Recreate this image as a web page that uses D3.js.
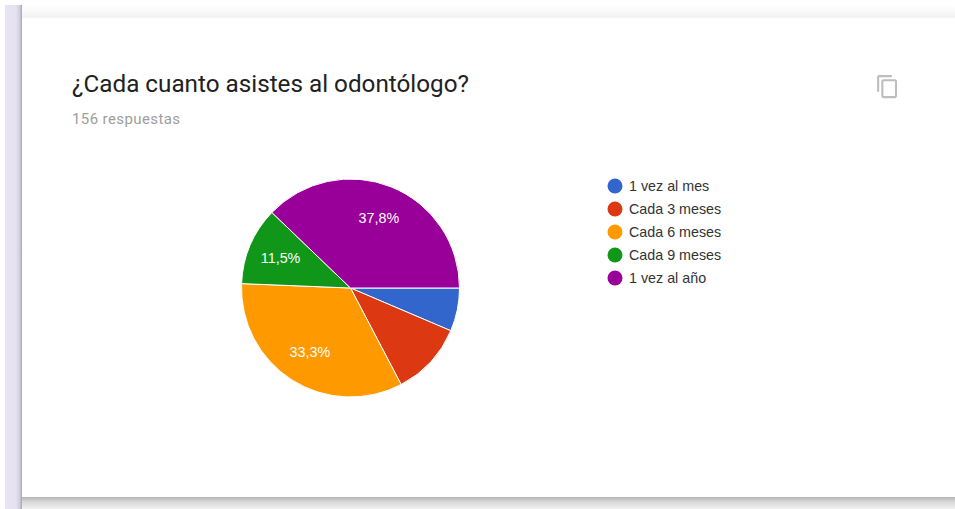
<!DOCTYPE html>
<html>
<head>
<meta charset="utf-8">
<script src="https://cdn.jsdelivr.net/npm/d3@7"></script>
<style>
  html, body { margin: 0; padding: 0; background: #fff; overflow: hidden; }
  text { font-family: Roboto, Arial, sans-serif; }
  .chart-text { font-family: "Liberation Sans", Arial, sans-serif; }
</style>
</head>
<body>
<div id="chart"></div>
<script>
// counts read from the percentages, 156 answers in total
const categories = ['1 vez al mes', 'Cada 3 meses', 'Cada 6 meses', 'Cada 9 meses', '1 vez al año'];
const counts = [10, 17, 52, 18, 59];
const sliceLabels = ['', '', '33,3%', '11,5%', '37,8%'];
const colors = ['#3366cc', '#dc3912', '#ff9900', '#109618', '#990099'];
const titleText = '¿Cada cuanto asistes al odontólogo?';
const subtitleText = '156 respuestas';

const width = 955, height = 509;
const cx = 350.5, cy = 288, radius = 109;

const svg = d3.select('#chart').append('svg')
    .attr('width', width)
    .attr('height', height)
    .style('display', 'block');

// gradients for the card shadows
const defs = svg.append('defs');
function addGradient(id, x2, y2, stops) {
  const g = defs.append('linearGradient').attr('id', id)
      .attr('x1', 0).attr('y1', 0).attr('x2', x2).attr('y2', y2);
  stops.forEach(s => g.append('stop').attr('offset', s[0]).attr('stop-color', s[1]));
}
addGradient('sideShade', 1, 0, [[0, '#e8e4f3'], [0.65, '#e6e1f2'], [0.85, '#d3cfdf'], [1, '#a8a5b3']]);
addGradient('topShade', 0, 1, [[0, '#ffffff'], [1, '#f2f2f2']]);
addGradient('bottomShade', 0, 1, [[0, '#b4b4b4'], [0.4, '#d8d8d8'], [1, '#f1f1f1']]);

svg.append('rect').attr('x', 5).attr('y', 5).attr('width', 17).attr('height', 504).attr('fill', 'url(#sideShade)');
svg.append('rect').attr('x', 22).attr('y', 5).attr('width', 933).attr('height', 13).attr('fill', 'url(#topShade)');
svg.append('rect').attr('x', 22).attr('y', 497).attr('width', 933).attr('height', 12).attr('fill', 'url(#bottomShade)');

svg.append('text')
    .attr('x', 72).attr('y', 92)
    .attr('font-size', 24.25)
    .attr('fill', '#212121')
    .text(titleText);

svg.append('text')
    .attr('x', 72).attr('y', 124)
    .attr('font-size', 15)
    .attr('letter-spacing', 0.4)
    .attr('fill', '#9e9e9e')
    .text(subtitleText);

// copy icon
svg.append('path')
    .attr('transform', 'translate(875,74) scale(1.05)')
    .attr('d', 'M16 1H4c-1.1 0-2 .9-2 2v14h2V3h12V1zm3 4H8c-1.1 0-2 .9-2 2v14c0 1.1.9 2 2 2h11c1.1 0 2-.9 2-2V7c0-1.1-.9-2-2-2zm0 16H8V7h11v14z')
    .attr('fill', '#bdbdbd');

// pie starts at 3 o'clock and runs clockwise
const pie = d3.pie().sort(null).startAngle(Math.PI / 2).endAngle(Math.PI / 2 + 2 * Math.PI);
const arc = d3.arc().innerRadius(0).outerRadius(radius);
const labelArc = d3.arc().innerRadius(76).outerRadius(76);

const g = svg.append('g').attr('transform', `translate(${cx},${cy})`);
const slices = pie(counts);

g.selectAll('path')
  .data(slices)
  .join('path')
    .attr('d', arc)
    .attr('fill', (d, i) => colors[i])
    .attr('stroke', '#fff')
    .attr('stroke-width', 1);

g.selectAll('text')
  .data(slices)
  .join('text')
    .attr('class', 'chart-text')
    .attr('transform', d => `translate(${labelArc.centroid(d)})`)
    .attr('text-anchor', 'middle')
    .attr('dy', '0.35em')
    .attr('font-size', 14.3)
    .attr('fill', '#fff')
    .text((d, i) => sliceLabels[i]);

// legend
const legendY = d3.scalePoint().domain(categories).range([186, 278]);
const legend = svg.append('g').selectAll('g')
  .data(categories)
  .join('g')
    .attr('transform', d => `translate(615,${legendY(d)})`);

legend.append('circle')
    .attr('r', 7.5)
    .attr('fill', (d, i) => colors[i]);

legend.append('text')
    .attr('class', 'chart-text')
    .attr('x', 14)
    .attr('dy', '0.35em')
    .attr('font-size', 14.3)
    .attr('fill', '#333')
    .text(d => d);
</script>
</body>
</html>
